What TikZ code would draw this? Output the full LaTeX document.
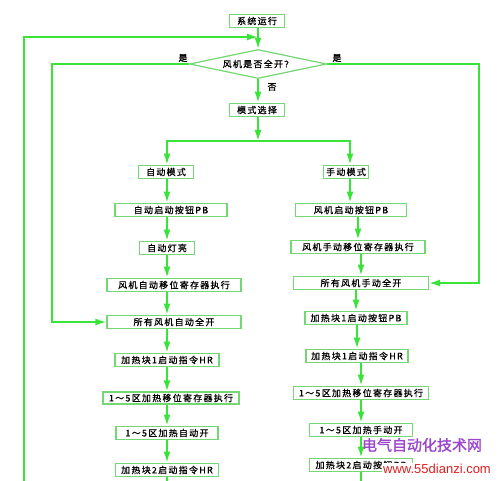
\documentclass[tikz,border=0pt]{standalone}
\usepackage{fontspec}
\setmainfont{Liberation Sans}
\newfontfamily\cjk[LetterSpace=14,FakeBold=0.8]{Noto Sans CJK SC}
\newfontfamily\wmfont[FakeBold=1.5]{Noto Sans CJK SC}
\usetikzlibrary{arrows.meta,shapes.geometric,calc}
\definecolor{lgreen}{RGB}{55,228,55}
\definecolor{bgreen}{RGB}{115,215,115}
\definecolor{wmpurple}{RGB}{155,70,205}
\definecolor{wmred}{RGB}{225,30,30}
\begin{document}
\begin{tikzpicture}[x=1pt,y=-1pt,
  box/.style={draw=bgreen,line width=1.2pt,fill=white,inner sep=0pt,minimum height=13.5pt,font=\cjk\fontsize{9}{9}\selectfont},
  conn/.style={draw=lgreen,line width=1.8pt},
  arr/.style={conn,-{Latex[length=11pt,width=7pt]}},
  lbl/.style={font=\cjk\fontsize{9}{9}\selectfont,inner sep=0pt}]
\useasboundingbox[fill=white] (0,0) rectangle (498,481);

% top
\node[box,minimum width=55pt] (run) at (257,21) {系统运行};
\node[diamond,draw=bgreen,line width=1.2pt,inner sep=0pt,shape aspect=4.7,
      minimum width=137pt,minimum height=29pt,font=\cjk\fontsize{9}{9}\selectfont] (fan) at (258,64) {风机是否全开？};
\node[box,minimum width=55pt] (mode) at (257,110) {模式选择};

% left column
\node[box,minimum width=55pt] (amode) at (166,172) {自动模式};
\node[box,minimum width=112pt] (apb) at (171,210) {自动启动按钮PB};
\node[box,minimum width=55pt] (alamp) at (167,248) {自动灯亮};
\node[box,minimum width=134pt] (ashift) at (174,285) {风机自动移位寄存器执行};
\node[box,minimum width=134pt] (aall) at (174,322) {所有风机自动全开};
\node[box,minimum width=104pt] (ah1) at (167,360) {加热块1启动指令HR};
\node[box,minimum width=136pt,minimum height=12pt] (ahshift) at (171,398) {1～5区加热移位寄存器执行};
\node[box,minimum width=102pt] (ahon) at (167,433) {1～5区加热自动开};
\node[box,minimum width=103pt] (ah2) at (167,470) {加热块2启动指令HR};

% right column
\node[box,minimum width=45pt] (mmode) at (346,172) {手动模式};
\node[box,minimum width=111pt] (mpb) at (351,210) {风机启动按钮PB};
\node[box,minimum width=134pt] (mshift) at (358,247) {风机手动移位寄存器执行};
\node[box,minimum width=135pt] (mall) at (361,283) {所有风机手动全开};
\node[box,minimum width=102pt] (mhpb) at (356,318) {加热块1启动按钮PB};
\node[box,minimum width=102pt] (mh1) at (357,356) {加热块1启动指令HR};
\node[box,minimum width=135pt] (mhshift) at (361,393) {1～5区加热移位寄存器执行};
\node[box,minimum width=103pt] (mhon) at (361,430) {1～5区加热手动开};
\node[box,minimum width=103pt] (mh2) at (361,465) {加热块2启动按钮PB};

% coordinates
\coordinate (lbot) at (24,481);
\coordinate (ltop) at (24,37);
\coordinate (mjoin) at (258,37);
\coordinate (yl) at (52,64);
\coordinate (yr) at (479,64);
\coordinate (split) at (258,141);
\coordinate (splitL) at (167,141);
\coordinate (splitR) at (350,141);

% top connectors
\draw[conn] (run.south -| fan.north) -- (mjoin);
\draw[arr] (mjoin) -- (fan.north);
\draw[arr] (lbot) -- (ltop) -- (mjoin);
\draw[arr] (fan.west) -- (yl) -- (yl |- aall.west) -- (aall.west);
\draw[arr] (fan.east) -- (yr) -- (yr |- mall.east) -- (mall.east);
\draw[arr] (fan.south) -- (fan.south |- mode.north);
\draw[arr] (mode.south -| split) -- (split);
\draw[arr] (split) -- (splitL) -- (splitL |- amode.north);
\draw[arr] (split) -- (splitR) -- (splitR |- mmode.north);

% labels
\node[lbl] (yesL) at (183,58) {是};
\node[lbl] (yesR) at (337,58) {是};
\node[lbl] (noB) at (272,87) {否};

% left chain
\foreach \a/\b in {amode/apb,apb/alamp,alamp/ashift,ashift/aall,aall/ah1,ah1/ahshift,ahshift/ahon,ahon/ah2}
  \draw[arr] (\a.south -| splitL) -- (\b.north -| splitL);
\draw[conn] (ah2.south -| splitL) -- (splitL |- lbot);

% right chain
\draw[arr] (mmode.south -| splitR) -- (mpb.north -| splitR);
\foreach \a/\b in {mpb/mshift,mshift/mall,mall/mhpb,mhpb/mh1,mh1/mhshift,mhshift/mhon,mhon/mh2}
  \draw[arr] (\a.south -| \b.north) -- (\b.north);
\draw[conn] (mh2.south) -- (mh2.south |- lbot);

% watermark
\node[font=\wmfont\fontsize{15}{15}\selectfont,text=wmpurple,inner sep=0pt] (wm1) at (422,445) {电气自动化技术网};
\node[fill=white,inner sep=1pt,text=wmred,font=\fontsize{13}{13}\selectfont] (wm2) at (437,469) {www.55dianzi.com};
\end{tikzpicture}
\end{document}
